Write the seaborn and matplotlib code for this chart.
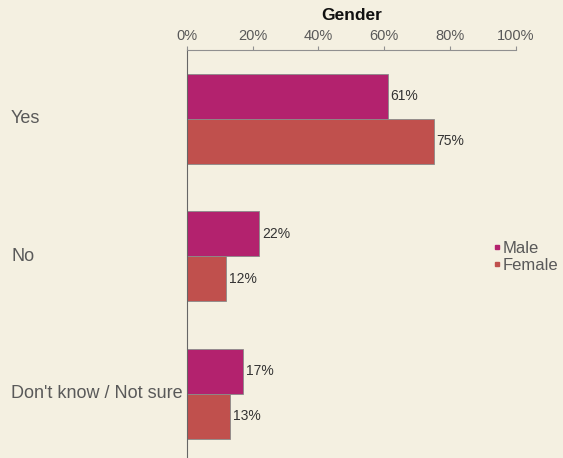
"""
Gender breakdown, horizontal grouped bars.
"""

import matplotlib
matplotlib.use("Agg")
import matplotlib.pyplot as plt
import matplotlib.transforms as mtransforms
import seaborn as sns
import pandas as pd
from matplotlib.lines import Line2D

# Data
categories = ["Yes", "No", "Don't know / Not sure"]
male = [61, 22, 17]
female = [75, 12, 13]
series_names = ["Male", "Female"]
x_ticks = [0, 20, 40, 60, 80, 100]

BG = "#F4F0E1"
COLORS = {"Male": "#B3226E", "Female": "#C0504D"}
TEXT = "#595959"

df = pd.DataFrame({
    "answer": categories * 2,
    "gender": ["Male"] * len(categories) + ["Female"] * len(categories),
    "pct": male + female,
})

sns.set_style("white")
plt.rcParams["font.family"] = ["Liberation Sans", "DejaVu Sans"]

fig = plt.figure(figsize=(5.63, 4.58), dpi=100, facecolor=BG)
ax = fig.add_axes([187 / 563, 0, (515.7 - 187) / 563, (458 - 50) / 458])
ax.set_facecolor(BG)

sns.barplot(
    data=df, y="answer", x="pct", hue="gender", order=categories,
    hue_order=series_names, palette=COLORS, orient="h", width=0.655,
    saturation=1, edgecolor="#8a8a8a", linewidth=0.6, ax=ax, legend=False,
)

# Value labels
for container in ax.containers:
    ax.bar_label(container, labels=[f"{v:.0f}%" for v in container.datavalues],
                 padding=2, fontsize=10, color="#333333")

ax.set_xlim(0, 100)
ax.set_ylim(2.467, -0.5)
ax.xaxis.tick_top()
ax.set_xticks(x_ticks)
ax.set_xticklabels([f"{t}%" for t in x_ticks])
ax.tick_params(axis="x", colors="#909090", labelsize=10.5, length=3,
               width=0.8, pad=2, labelcolor=TEXT)
ax.set_xlabel("")
ax.set_ylabel("")

# Category labels, left aligned
ax.set_yticks([0.5, 1.5])
ax.set_yticklabels([])
ax.tick_params(axis="y", length=3, width=0.8, colors="#666666")
label_trans = mtransforms.blended_transform_factory(fig.transFigure, ax.transData)
for i, cat in enumerate(categories):
    ax.text(11 / 563, i, cat, transform=label_trans, ha="left", va="center",
            fontsize=13, color=TEXT)

for side in ["right", "bottom"]:
    ax.spines[side].set_visible(False)
ax.spines["left"].set_color("#666666")
ax.spines["top"].set_color("#909090")
ax.spines["left"].set_linewidth(0.8)
ax.spines["top"].set_linewidth(0.8)

fig.text(352 / 563, 1 - 16 / 458, "Gender", ha="center", va="center",
         fontsize=12.5, fontweight="bold", color="#111111")

handles = [Line2D([], [], marker="s", linestyle="", markersize=3.5,
                  color=COLORS[s]) for s in series_names]
fig.legend(handles, series_names, loc="center left",
           bbox_to_anchor=(485 / 563, 1 - 257 / 458), frameon=False,
           fontsize=12, labelcolor=TEXT, handlelength=0.4, handletextpad=0.15,
           borderpad=0, labelspacing=0.1)

fig.savefig("out.png", dpi=100, facecolor=BG)
